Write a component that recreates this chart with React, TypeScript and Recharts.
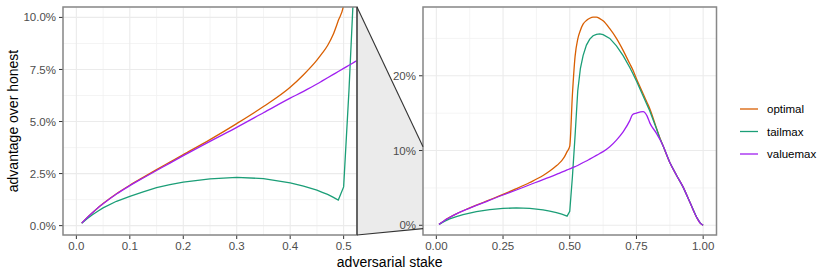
import { LineChart, Line, XAxis, YAxis, CartesianGrid } from "recharts"

// adversarial stake (x) and advantage over honest (%)
const stake = [
  0.01, 0.02, 0.03, 0.04, 0.05, 0.075, 0.1, 0.125, 0.15, 0.175, 0.2, 0.25, 0.3, 0.35, 0.4,
  0.425, 0.45, 0.46, 0.47, 0.48, 0.49, 0.5, 0.51, 0.52, 0.53, 0.54, 0.55, 0.5625, 0.575,
  0.5875, 0.6, 0.6125, 0.625, 0.65, 0.675, 0.7, 0.725, 0.735, 0.75, 0.775, 0.79, 0.8, 0.825,
  0.8375, 0.85, 0.875, 0.9, 0.925, 0.95, 0.975, 0.99, 1.0,
]
const optimal = [
  0.12, 0.38, 0.62, 0.85, 1.06, 1.53, 1.94, 2.32, 2.69, 3.05, 3.41, 4.13, 4.9, 5.72, 6.65,
  7.25, 7.95, 8.28, 8.65, 9.15, 9.85, 10.6, 17.5, 22.6, 24.9, 26.1, 26.9, 27.4, 27.7,
  27.85, 27.85, 27.65, 27.35, 26.3, 25.0, 23.4, 21.6, 20.9, 19.6, 17.6, 16.4, 15.6, 13.0,
  11.7, 10.6, 8.4, 6.7, 5.1, 3.1, 1.1, 0.25, 0.0,
]
const tailmax = [
  0.12, 0.33, 0.52, 0.69, 0.85, 1.17, 1.41, 1.62, 1.83, 1.97, 2.09, 2.25, 2.32, 2.26, 2.05,
  1.9, 1.7, 1.6, 1.5, 1.37, 1.23, 1.86, 6.5, 12.0, 18.0, 21.0, 22.7, 24.1, 24.9,
  25.35, 25.55, 25.6, 25.5, 25.0, 24.0, 22.7, 21.1, 20.4, 19.3, 17.3, 16.1, 15.3, 12.9,
  11.65, 10.6, 8.4, 6.7, 5.1, 3.1, 1.1, 0.25, 0.0,
]
const valuemax = [
  0.12, 0.38, 0.62, 0.85, 1.05, 1.52, 1.92, 2.29, 2.65, 3.0, 3.36, 4.05, 4.72, 5.42, 6.12,
  6.45, 6.8, 6.95, 7.1, 7.25, 7.4, 7.55, 7.7, 7.85, 8.0, 8.2, 8.4, 8.6, 8.85,
  9.1, 9.35, 9.6, 9.85, 10.5, 11.4, 12.5, 14.0, 14.8, 15.0, 15.2, 14.6, 13.7, 12.3,
  11.5, 10.6, 8.4, 6.7, 5.1, 3.1, 1.1, 0.25, 0.0,
]

const seriesNames = ["optimal", "tailmax", "valuemax"]
const seriesColors = ["#D95F02", "#1B9E77", "#A020F0"]
// tailmax has hard corners at 0.49 / 0.5, keep it straight-segmented
const seriesCurves = ["monotone", "linear", "monotone"] as const

// zoomed panel (left) and full panel (right)
const leftXTicks = [0, 0.1, 0.2, 0.3, 0.4, 0.5]
const leftXMinor = [0.05, 0.15, 0.25, 0.35, 0.45]
const leftYTicks = [0, 2.5, 5, 7.5, 10]
const leftYMinor = [1.25, 3.75, 6.25, 8.75]
const rightXTicks = [0, 0.25, 0.5, 0.75, 1]
const rightXMinor = [0.125, 0.375, 0.625, 0.875]
const rightYTicks = [0, 10, 20]
const rightYMinor = [5, 15, 25]

const leftXDomain: [number, number] = [-0.025, 0.525]
const leftYDomain: [number, number] = [-0.45, 10.5]
const rightXDomain: [number, number] = [-0.05, 1.05]
const rightYDomain: [number, number] = [-1.3, 29.2]

const rows = stake.map((s, i) => ({
  stake: s,
  optimal: optimal[i],
  tailmax: tailmax[i],
  valuemax: valuemax[i],
}))

const FONT = '"Liberation Sans", Arial, Helvetica, sans-serif'
const H = 277
const TOP = 7
const X_AXIS_H = 42
const BOTTOM = H - X_AXIS_H

const LEFT = { x: 0, width: 360, yAxisW: 63, right: 3 }
const RIGHT = { x: 360, width: 360, yAxisW: 63, right: 3.5 }

const plotLeft = (p: typeof LEFT) => p.x + p.yAxisW
const plotRight = (p: typeof LEFT) => p.x + p.width - p.right

function yPx(v: number, dom: [number, number]) {
  return TOP + ((dom[1] - v) / (dom[1] - dom[0])) * (BOTTOM - TOP)
}

interface PanelProps {
  box: typeof LEFT
  xDomain: [number, number]
  yDomain: [number, number]
  xTicks: number[]
  xMinor: number[]
  yTicks: number[]
  yMinor: number[]
  xFmt: (v: number) => string
  yFmt: (v: number) => string
}

function Panel({ box, xDomain, yDomain, xTicks, xMinor, yTicks, yMinor, xFmt, yFmt }: PanelProps) {
  const tick = { fill: "#4D4D4D", fontSize: 11.5, fontFamily: FONT }
  return (
    <div style={{ position: "absolute", left: box.x, top: 0 }}>
      <LineChart
        width={box.width}
        height={H}
        data={rows}
        margin={{ top: TOP, right: box.right, bottom: 0, left: 0 }}
      >
        <CartesianGrid
          stroke="#F1F1F1"
          strokeWidth={0.8}
          verticalValues={xMinor}
          horizontalValues={yMinor}
        />
        <CartesianGrid stroke="#EBEBEB" strokeWidth={1.1} />
        <XAxis
          type="number"
          dataKey="stake"
          domain={xDomain}
          ticks={xTicks}
          interval={0}
          allowDataOverflow
          tickFormatter={xFmt}
          height={X_AXIS_H}
          axisLine={false}
          tickLine={{ stroke: "#333333" }}
          tickSize={4}
          tickMargin={3}
          tick={tick}
        />
        <YAxis
          type="number"
          domain={yDomain}
          ticks={yTicks}
          interval={0}
          allowDataOverflow
          tickFormatter={yFmt}
          width={box.yAxisW}
          axisLine={false}
          tickLine={{ stroke: "#333333" }}
          tickSize={4}
          tickMargin={3}
          tick={tick}
        />
        {seriesNames.map((name, i) => (
          <Line
            key={name}
            dataKey={name}
            type={seriesCurves[i]}
            stroke={seriesColors[i]}
            strokeWidth={1.3}
            dot={false}
            activeDot={false}
            isAnimationActive={false}
          />
        ))}
      </LineChart>
    </div>
  )
}

export default function App() {
  const lR = plotRight(LEFT)
  const rL = plotLeft(RIGHT)
  const zoomTop = yPx(leftYDomain[1], rightYDomain)
  const zoomBottom = yPx(leftYDomain[0], rightYDomain)
  const titleX = (plotLeft(LEFT) + plotRight(RIGHT)) / 2
  const svgStyle = { position: "absolute" as const, left: 0, top: 0, pointerEvents: "none" as const }

  return (
    <div style={{ position: "relative", width: 830, height: H, background: "#fff", fontFamily: FONT }}>
      <style>{"body{margin:0}"}</style>
      {/* zoom indicator fill, under the panels */}
      <svg width={830} height={H} style={svgStyle}>
        <polygon
          points={`${lR},${TOP} ${rL},${zoomTop} ${rL},${zoomBottom} ${lR},${BOTTOM}`}
          fill="#EBEBEB"
        />
      </svg>
      <Panel
        box={LEFT}
        xDomain={leftXDomain}
        yDomain={leftYDomain}
        xTicks={leftXTicks}
        xMinor={leftXMinor}
        yTicks={leftYTicks}
        yMinor={leftYMinor}
        xFmt={(v) => v.toFixed(1)}
        yFmt={(v) => `${v.toFixed(1)}%`}
      />
      <Panel
        box={RIGHT}
        xDomain={rightXDomain}
        yDomain={rightYDomain}
        xTicks={rightXTicks}
        xMinor={rightXMinor}
        yTicks={rightYTicks}
        yMinor={rightYMinor}
        xFmt={(v) => v.toFixed(2)}
        yFmt={(v) => `${v}%`}
      />
      <svg width={830} height={H} style={svgStyle}>
        {/* panel borders */}
        <rect
          x={plotLeft(LEFT)}
          y={TOP}
          width={lR - plotLeft(LEFT)}
          height={BOTTOM - TOP}
          fill="none"
          stroke="#888"
          strokeWidth={1.5}
        />
        <rect
          x={rL}
          y={TOP}
          width={plotRight(RIGHT) - rL}
          height={BOTTOM - TOP}
          fill="none"
          stroke="#888"
          strokeWidth={1.5}
        />
        <g stroke="#333" strokeWidth={1.1} fill="none">
          <line x1={lR} y1={TOP} x2={lR} y2={BOTTOM} />
          <line x1={lR} y1={TOP} x2={rL} y2={zoomTop} />
          <line x1={lR} y1={BOTTOM} x2={rL} y2={zoomBottom} />
        </g>

        {/* axis titles */}
        <text x={titleX} y={266.5} textAnchor="middle" fontSize={14} fill="#000" fontFamily={FONT}>
          adversarial stake
        </text>
        <text
          transform={`translate(17.5, ${(TOP + BOTTOM) / 2}) rotate(-90)`}
          textAnchor="middle"
          fontSize={14}
          fill="#000"
          fontFamily={FONT}
        >
          advantage over honest
        </text>

        {/* legend */}
        {seriesNames.map((name, i) => (
          <g key={name} transform={`translate(740, ${109 + i * 22.5})`}>
            <line x1={0} y1={0} x2={18} y2={0} stroke={seriesColors[i]} strokeWidth={1.3} />
            <text x={27} y={4} fontSize={11.5} fill="#000" fontFamily={FONT}>
              {name}
            </text>
          </g>
        ))}
      </svg>
    </div>
  )
}
